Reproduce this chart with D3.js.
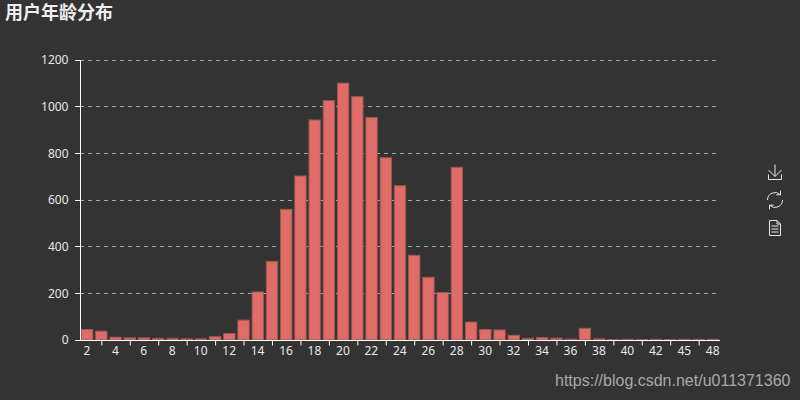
<!DOCTYPE html>
<html>
<head>
<meta charset="utf-8">
<script src="https://cdn.jsdelivr.net/npm/d3@7"></script>
<style>
html,body{margin:0;padding:0;background:#333;overflow:hidden}
svg{display:block}
</style>
</head>
<body>
<svg id="chart" width="800" height="400"></svg>
<script>
const ages = ["2","3","4","5","6","7","8","9","10","11","12","13","14","15","16","17","18","19","20","21","22","23","24","25","26","27","28","29","30","31","32","33","34","35","36","37","38","39","40","41","42","44","45","47","48"];
const counts = [45,38,12,9,9,7,7,5,5,14,28,85,206,337,560,703,943,1026,1101,1043,954,781,661,363,269,204,740,77,45,43,20,7,10,8,4,50,5,2,3,2,3,2,3,3,3];
const yTicks = [0,200,400,600,800,1000,1200];
const titleText = "用户年龄分布";
const watermark = "https://blog.csdn.net/u011371360";

const font = "'Noto Sans','Noto Sans CJK SC',sans-serif";
const svg = d3.select("#chart");
const x = d3.scaleBand().domain(ages).range([80,720]).paddingInner(0.2).paddingOuter(0.1);
const y = d3.scaleLinear().domain([0,1200]).range([340,60]);
const line = "#fff", grid = "#aaa", text = "#e8e8e8";
const snap = v => Math.floor(y(v))+0.5;

// gridlines
svg.append("g").selectAll("line").data(yTicks.slice(1)).join("line")
  .attr("x1",80).attr("x2",720)
  .attr("y1",snap).attr("y2",snap)
  .attr("stroke",grid).attr("stroke-width",1).attr("stroke-dasharray","4 4");

// bars
svg.append("g").selectAll("rect").data(counts).join("rect")
  .attr("x",(d,i)=>x(ages[i])).attr("width",x.bandwidth())
  .attr("y",d=>y(d)).attr("height",d=>340-y(d))
  .attr("fill","#e06c68").attr("stroke","#9a5855").attr("stroke-width",1);

// y axis
const gy = svg.append("g").attr("transform","translate(80.5,0)")
  .call(d3.axisLeft(y).tickValues(yTicks).tickFormat(d3.format("d")).tickSize(0).tickPadding(12));
gy.select(".domain").attr("stroke",line).attr("d","M0,60V340");
gy.selectAll("text").attr("fill",text).style("font",`12px ${font}`);
svg.append("g").selectAll("line").data(yTicks).join("line")
  .attr("x1",75).attr("x2",80).attr("y1",snap).attr("y2",snap).attr("stroke",line);

// x axis: labels under even slots, tick marks at the odd slots
const bandCenter = d => x(d)+x.bandwidth()/2;
const center = d3.scaleOrdinal().domain(ages).range(ages.map(bandCenter));
const gxLabels = svg.append("g").attr("transform","translate(-0.7,340.5)")
  .call(d3.axisBottom(center).tickValues(ages.filter((d,i)=>i%2===0)).tickSize(0).tickPadding(6));
gxLabels.select(".domain").attr("stroke",line).attr("d","M80.7,0H720.7");
gxLabels.selectAll("text").attr("fill",text).style("font",`12px ${font}`);

const gxTicks = svg.append("g").attr("transform","translate(0,340.5)")
  .call(d3.axisBottom(center).tickValues(ages.filter((d,i)=>i%2===1)).tickSize(5).tickFormat(""));
gxTicks.select(".domain").remove();
gxTicks.selectAll(".tick line").attr("stroke",line);

// title
svg.append("text").attr("x",5).attr("y",19).text(titleText)
  .attr("fill","#eee").style("font",`bold 18px 'Noto Sans CJK SC',sans-serif`);

// toolbox icons
const icons = svg.append("g").attr("fill","none").attr("stroke","#e6e6e6").attr("stroke-width",1);
icons.append("path").attr("d","M768.5,174.5V179.5H781.5V174.5M775,164.5V176.5M768.5,170L775,176.5L781.5,170");
icons.append("path").attr("d","M767.5,200A7.5,7.5 0 0 1 780.3,194.7M782.5,200A7.5,7.5 0 0 1 769.7,205.3M780.5,190.5V194.8H776.2M769.5,209.5V205.2H773.8");
icons.append("path").attr("d","M769.5,220.5H777L780.5,224V235.5H769.5ZM777,220.5V224H780.5M771.5,226H778.5M771.5,229H778.5M771.5,232H778.5");

// watermark
svg.append("text").attr("x",555).attr("y",386).text(watermark)
  .attr("fill","#a8a8a8").style("font","16px 'Liberation Sans',Arial,sans-serif");
</script>
</body>
</html>
